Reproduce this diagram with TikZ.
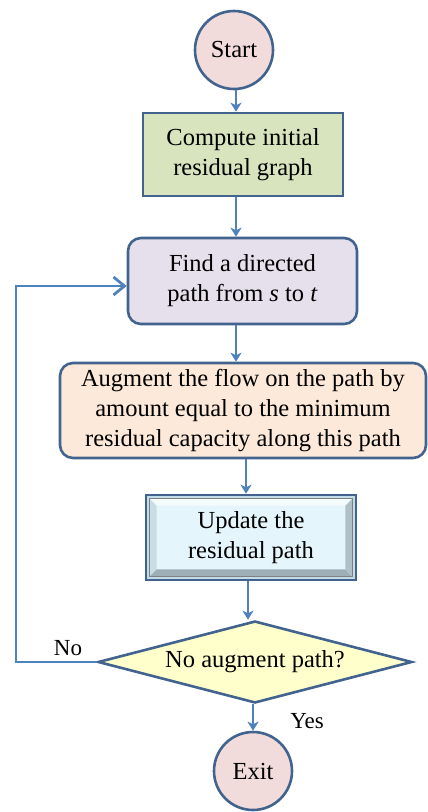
\documentclass[tikz,border=0pt]{standalone}
\usepackage{fontspec}
\setmainfont{Liberation Serif}
\usetikzlibrary{shapes.geometric,arrows.meta,backgrounds}
\definecolor{lineblue}{HTML}{4F81BD}
\definecolor{edgeblue}{HTML}{41638E}
\definecolor{startfill}{HTML}{F2DCDB}
\definecolor{greenfill}{HTML}{D7E4BD}
\definecolor{lavfill}{HTML}{E5E0EC}
\definecolor{peachfill}{HTML}{FDE9D9}
\definecolor{cyanface}{HTML}{E4F6FB}
\definecolor{cyanstrip}{HTML}{C3DCEA}
\definecolor{bevellight}{HTML}{F4FBFD}
\definecolor{beveldark}{HTML}{9EAFB8}
\definecolor{bevelmid}{HTML}{C9DDE4}
\definecolor{yellowfill}{HTML}{FFFFCC}
\begin{document}
\begin{tikzpicture}[x=1pt,y=-1pt,
  every node/.style={font=\fontsize{24.5}{30}\selectfont, align=center, inner sep=0pt},
  term/.style={circle, draw=edgeblue, line width=2.6pt, fill=startfill, minimum size=78pt},
  procbox/.style={rectangle, draw=edgeblue, line width=2.6pt},
  roundbox/.style={rectangle, rounded corners=13pt, draw=edgeblue, line width=2.6pt},
  decision/.style={diamond, draw=edgeblue, line width=2.6pt, fill=yellowfill, shape aspect=3.8, minimum width=314pt, minimum height=82pt},
  arr/.style={draw=lineblue, line width=2.8pt, -{Stealth[length=9pt,width=11pt,inset=2.5pt]}},
  arropen/.style={draw=lineblue, line width=2.8pt, -{Straight Barb[length=11pt,width=18pt]}},
  lbl/.style={font=\fontsize{23}{27}\selectfont}]
\useasboundingbox (0,0) rectangle (428,812);

\node[term] (start) at (234,50) {Start};
\node[procbox, fill=greenfill, minimum width=200pt, minimum height=83pt] (init) at (243,154.5) {Compute initial\\residual graph};
\node[roundbox, fill=lavfill, minimum width=229pt, minimum height=86pt] (find) at (242.5,281) {Find a directed\\path from \textit{s} to \textit{t}};
\node[roundbox, fill=peachfill, minimum width=366pt, minimum height=95pt] (aug) at (243,410.5) {Augment the flow on the path by\\amount equal to the minimum\\residual capacity along this path};
\node[procbox, minimum width=210pt, minimum height=85pt] (upd) at (251,537.5) {Update the\\residual path};
\node[decision] (dec) at (255,662) {No augment path?};
\node[term] (exit) at (253,771) {Exit};

\begin{scope}[on background layer]
  \fill[cyanstrip] (upd.north west) rectangle (upd.south east);
  \fill[cyanface] ([shift={(5,5)}]upd.north west) rectangle ([shift={(-5,-5)}]upd.south east);
  \fill[bevellight] ([shift={(5,5)}]upd.north west) -- ([shift={(-5,5)}]upd.north east) -- ([shift={(-12,12)}]upd.north east) -- ([shift={(12,12)}]upd.north west) -- cycle;
  \fill[bevelmid] ([shift={(5,5)}]upd.north west) -- ([shift={(5,-5)}]upd.south west) -- ([shift={(12,-12)}]upd.south west) -- ([shift={(12,12)}]upd.north west) -- cycle;
  \fill[beveldark] ([shift={(5,-5)}]upd.south west) -- ([shift={(-5,-5)}]upd.south east) -- ([shift={(-12,-12)}]upd.south east) -- ([shift={(12,-12)}]upd.south west) -- cycle;
  \fill[beveldark!80!white] ([shift={(-5,5)}]upd.north east) -- ([shift={(-5,-5)}]upd.south east) -- ([shift={(-12,-12)}]upd.south east) -- ([shift={(-12,12)}]upd.north east) -- cycle;
  \draw[gray, line width=0.8pt] ([shift={(5,5)}]upd.north west) rectangle ([shift={(-5,-5)}]upd.south east);
\end{scope}

\coordinate (cx1) at (236,0);
\coordinate (cx2) at (246,0);
\coordinate (cx3) at (248,0);
\coordinate (lx) at (16,286);

\draw[arr] (start.south -| cx1) -- (init.north -| cx1);
\draw[arr] (init.south -| cx1) -- (find.north -| cx1);
\draw[arr] (find.south -| cx1) -- (aug.north -| cx1);
\draw[arr] (aug.south -| cx2) -- (upd.north -| cx2);
\draw[arr] (upd.south -| cx3) -- (dec.north -| cx3);
\draw[arr] (dec.south -| exit) -- (exit.north);
\draw[arropen] (dec.west) -- (dec.west -| lx) -- (lx) -- (lx -| find.west);

\node[lbl] (no) at (68,648) {No};
\node[lbl] (yes) at (307,721) {Yes};
\end{tikzpicture}
\end{document}
